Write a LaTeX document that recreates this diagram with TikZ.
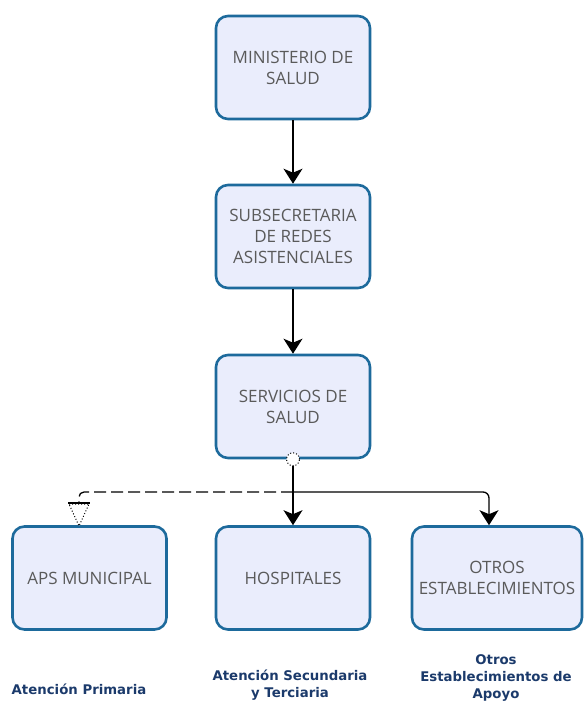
\documentclass[tikz,border=0pt]{standalone}
\usepackage{fontspec}
\setmainfont{Open Sans}
\newfontfamily\labelfont{DejaVu Sans}
\usetikzlibrary{arrows.meta,calc}
\definecolor{boxfill}{HTML}{EAEDFC}
\definecolor{boxline}{HTML}{1D6A9C}
\definecolor{boxtext}{HTML}{5A5A5A}
\definecolor{labelblue}{HTML}{1B3A6B}
\tikzset{
  unit/.style={draw=boxline, fill=boxfill, line width=2.6pt, rounded corners=12pt,
    minimum width=154pt, minimum height=103pt, align=center,
    text=boxtext, font=\fontsize{17}{21}\selectfont},
  levellabel/.style={text=labelblue, align=center,
    font=\labelfont\bfseries\fontsize{13.3}{17}\selectfont},
  link/.style={line width=1.3pt, -{Stealth[length=15pt, width=19pt, inset=4pt]}},
  weaklink/.style={line width=1.3pt, dash pattern=on 12pt off 5pt, rounded corners=5pt}
}
\begin{document}
\begin{tikzpicture}[x=1pt, y=-1pt]
  \useasboundingbox (0,0) rectangle (584,703);

  % hierarchy boxes
  \node[unit] (minsal) at (293,67.5) {MINISTERIO DE\\SALUD};
  \node[unit] (subred) at (293,236.5) {SUBSECRETARIA\\DE REDES\\ASISTENCIALES};
  \node[unit] (ss) at (293,406.5) {SERVICIOS DE\\SALUD};
  \node[unit] (aps) at (89.5,578) {APS MUNICIPAL};
  \node[unit] (hosp) at (293,578) {HOSPITALES};
  \node[unit, minimum width=170pt] (otros) at (497,578) {OTROS\\ESTABLECIMIENTOS};

  % levels of care
  \node[levellabel] (lprim) at (79,689) {Atención Primaria};
  \node[levellabel] (lsec) at (290,685) {Atención Secundaria\\y Terciaria};
  \node[levellabel] (lotros) at (496,678) {Otros\\Establecimientos de\\Apoyo};

  % direct dependencies
  \draw[link] (minsal.south) -- (subred.north);
  \draw[link] (subred.south) -- (ss.north);
  \draw[link] (ss.south) -- (hosp.north);

  \coordinate (split) at (293,492);
  \coordinate (otrosin) at ($(otros.north)+(-8,0)$);
  \draw[link, rounded corners=6pt] (split) -- (otrosin |- split) -- (otrosin);

  % municipal administration (dashed, hollow end)
  \coordinate (apsbar) at (79,503);
  \draw[weaklink] (split) -- (apsbar |- split) -- (apsbar);
  \draw[line width=1.3pt] ($(apsbar)+(-11,0)$) -- ($(apsbar)+(11,0)$);
  \draw[line width=1pt, dotted, fill=white] ($(apsbar)+(-10,1)$) -- ($(apsbar)+(10,1)$) -- (79,526) -- cycle;

  % origin marker
  \draw[line width=1pt, dotted, fill=white] (ss.south) circle (6.5pt);
\end{tikzpicture}
\end{document}
